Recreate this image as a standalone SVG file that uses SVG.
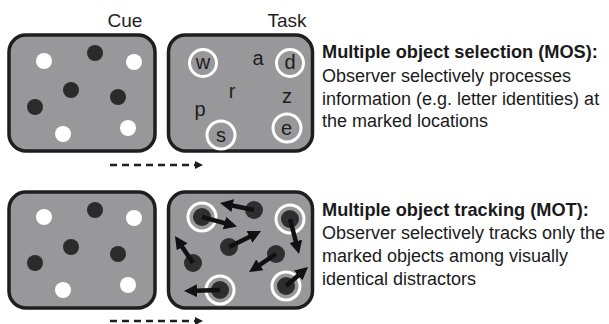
<svg xmlns="http://www.w3.org/2000/svg" width="609" height="324" viewBox="0 0 609 324">
<defs>
<style>
.panel{fill:#98989a;stroke:#1e1e1e;stroke-width:3.5}
.wd{fill:#ffffff}
.bd{fill:#2b2b2b}
.md{fill:#2e2e2e}
.ring{fill:none;stroke:#ffffff;stroke-width:3}
.lab{font-family:"Liberation Sans",Arial,sans-serif;font-size:19px;fill:#1e1e1e}
.let{font-family:"Liberation Sans",Arial,sans-serif;font-size:20px;fill:#1e1e1e;text-anchor:middle}
.hd{font-family:"Liberation Sans",Arial,sans-serif;font-size:18.2px;font-weight:bold;fill:#1a1a1a}
.tx{font-family:"Liberation Sans",Arial,sans-serif;font-size:18px;fill:#1a1a1a}
.mv{stroke:#111;stroke-width:4.5;fill:none;marker-end:url(#ah)}
.dash{stroke:#1e1e1e;stroke-width:2.5;stroke-dasharray:7 5;fill:none}
</style>
<marker id="ah" viewBox="0 0 13 13" refX="2" refY="6.5" markerWidth="13" markerHeight="13" markerUnits="userSpaceOnUse" orient="auto">
<path d="M0,0 L13,6.5 L0,13 z" fill="#111"/>
</marker>
</defs>

<text class="lab" x="125" y="27" text-anchor="middle">Cue</text>
<text class="lab" x="287" y="27" text-anchor="middle">Task</text>

<g id="mos-cue">
<rect class="panel" x="9" y="35" width="146" height="116" rx="17"/>
<circle class="wd" cx="44" cy="61" r="8"/>
<circle class="bd" cx="95" cy="53" r="8"/>
<circle class="wd" cx="134" cy="62" r="8"/>
<circle class="bd" cx="71" cy="90" r="8"/>
<circle class="bd" cx="35" cy="107" r="8"/>
<circle class="bd" cx="118" cy="97" r="8"/>
<circle class="wd" cx="63" cy="134" r="8"/>
<circle class="wd" cx="128" cy="128" r="8"/>
</g>

<g id="mos-task">
<rect class="panel" x="168.5" y="35" width="144" height="116" rx="17"/>
<circle class="ring" cx="203" cy="63" r="13.5"/>
<circle class="ring" cx="290" cy="63" r="13.5"/>
<circle class="ring" cx="221" cy="135" r="14"/>
<circle class="ring" cx="287" cy="128" r="14"/>
<text class="let" x="203" y="68.5">w</text>
<text class="let" x="258" y="65">a</text>
<text class="let" x="290" y="69">d</text>
<text class="let" x="232" y="97.5">r</text>
<text class="let" x="287" y="102.5">z</text>
<text class="let" x="200" y="116">p</text>
<text class="let" x="221" y="141.5">s</text>
<text class="let" x="286.5" y="135">e</text>
</g>

<g id="mos-text">
<text class="hd" x="322" y="58">Multiple object selection (MOS):</text>
<text class="tx" x="322" y="82">Observer selectively processes</text>
<text class="tx" x="322" y="104.5">information (e.g. letter identities) at</text>
<text class="tx" x="322" y="127">the marked locations</text>
</g>

<g id="mot-cue">
<rect class="panel" x="9" y="192" width="146" height="116" rx="17"/>
<circle class="wd" cx="44" cy="217" r="8"/>
<circle class="bd" cx="95" cy="210" r="8"/>
<circle class="wd" cx="134" cy="218" r="8"/>
<circle class="bd" cx="71" cy="247" r="8"/>
<circle class="bd" cx="35" cy="263" r="8"/>
<circle class="bd" cx="118" cy="254" r="8"/>
<circle class="wd" cx="63" cy="290" r="8"/>
<circle class="wd" cx="128" cy="285" r="8"/>
</g>

<g id="mot-task">
<rect class="panel" x="168.5" y="192" width="144" height="116" rx="17"/>
<circle class="md" cx="202" cy="217" r="9"/>
<circle class="md" cx="254" cy="210" r="9"/>
<circle class="md" cx="290" cy="219" r="9"/>
<circle class="md" cx="229" cy="247" r="9"/>
<circle class="md" cx="193" cy="263" r="9"/>
<circle class="md" cx="276" cy="254" r="9"/>
<circle class="md" cx="220" cy="290" r="9"/>
<circle class="md" cx="286" cy="286" r="9"/>
<circle class="ring" cx="202" cy="217" r="14"/>
<circle class="ring" cx="290" cy="219" r="14"/>
<circle class="ring" cx="220" cy="290" r="14"/>
<circle class="ring" cx="286" cy="286" r="14"/>
<line class="mv" x1="202" y1="217" x2="226.4" y2="223.6"/>
<line class="mv" x1="254" y1="210" x2="230.8" y2="205.2"/>
<line class="mv" x1="290" y1="219" x2="296.3" y2="243.3"/>
<line class="mv" x1="229" y1="247" x2="251.2" y2="236"/>
<line class="mv" x1="193" y1="263" x2="181.1" y2="245.2"/>
<line class="mv" x1="276" y1="254" x2="258.2" y2="265.9"/>
<line class="mv" x1="220" y1="290" x2="195" y2="290.7"/>
<line class="mv" x1="286" y1="286" x2="299.7" y2="274.2"/>
</g>

<g id="mot-text">
<text class="hd" x="322" y="216">Multiple object tracking (MOT):</text>
<text class="tx" x="322" y="239">Observer selectively tracks only the</text>
<text class="tx" x="322" y="262">marked objects among visually</text>
<text class="tx" x="322" y="285">identical distractors</text>
</g>

<g id="connectors">
<line class="dash" x1="110" y1="165" x2="196" y2="165"/>
<path d="M195,161 L203,165 L195,169 z" fill="#1e1e1e"/>
<line class="dash" x1="110" y1="321" x2="196" y2="321"/>
<path d="M195,317 L203,321 L195,325 z" fill="#1e1e1e"/>
</g>
</svg>
